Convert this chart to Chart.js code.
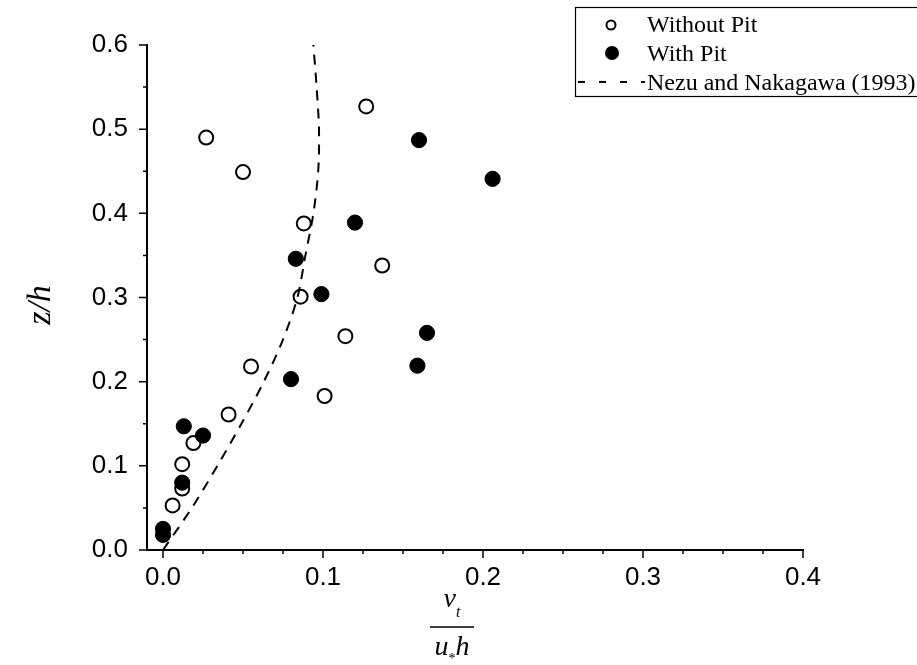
<!DOCTYPE html>
<html><head><meta charset="utf-8">
<script src="https://cdn.jsdelivr.net/npm/chart.js@4"></script>
<style>html,body{margin:0;padding:0;background:#fff;overflow:hidden;} #wrap{width:917px;height:665px;position:relative;}</style>
</head><body><div id="wrap"><canvas id="c" width="917" height="665"></canvas></div>
<script>
// ---- data ----
const withoutPitX = [0.027, 0.050, 0.127, 0.088, 0.137, 0.086, 0.114, 0.055, 0.101, 0.041, 0.019, 0.012, 0.012, 0.006];
const withoutPitY = [0.490, 0.449, 0.527, 0.388, 0.338, 0.301, 0.254, 0.218, 0.183, 0.161, 0.127, 0.102, 0.073, 0.053];
const withPitX = [0.160, 0.206, 0.120, 0.083, 0.099, 0.165, 0.159, 0.080, 0.025, 0.013, 0.012, 0.000, 0.000];
const withPitY = [0.487, 0.441, 0.389, 0.346, 0.304, 0.258, 0.219, 0.203, 0.136, 0.147, 0.080, 0.025, 0.018];
const nezuX = [0.000, 0.018, 0.034, 0.049, 0.063, 0.075, 0.084, 0.089, 0.094, 0.097, 0.0975, 0.096, 0.094];
const nezuY = [0.00, 0.05, 0.10, 0.15, 0.20, 0.25, 0.30, 0.35, 0.40, 0.45, 0.50, 0.55, 0.60];
const xTicks = [0.0, 0.1, 0.2, 0.3, 0.4];
const yTicks = [0.0, 0.1, 0.2, 0.3, 0.4, 0.5, 0.6];
const xMinorTicks = [0.025, 0.05, 0.075, 0.125, 0.15, 0.175, 0.225, 0.25, 0.275, 0.325, 0.35, 0.375];
const yMinorTicks = [0.05, 0.15, 0.25, 0.35, 0.45, 0.55];
const legendLabels = ['Without Pit', 'With Pit', 'Nezu and Nakagawa (1993)'];

const toPts = (xs, ys) => xs.map((x, i) => ({x: x, y: ys[i]}));
const SERIF = "'Liberation Serif', 'Times New Roman', serif";

const tickPlugin = {
  id: 'ticksAndTitles',
  afterDraw(chart) {
    const ctx = chart.ctx;
    const xs = chart.scales.x, ys = chart.scales.y;
    const ca = chart.chartArea;
    ctx.save();
    ctx.strokeStyle = '#000';
    ctx.lineWidth = 1.5;
    ctx.beginPath();
    xTicks.forEach(v => { const p = xs.getPixelForValue(v); ctx.moveTo(p, ca.bottom); ctx.lineTo(p, ca.bottom + 8); });
    xMinorTicks.forEach(v => { const p = xs.getPixelForValue(v); ctx.moveTo(p, ca.bottom); ctx.lineTo(p, ca.bottom + 4); });
    yTicks.forEach(v => { const p = ys.getPixelForValue(v); ctx.moveTo(ca.left, p); ctx.lineTo(ca.left - 8, p); });
    yMinorTicks.forEach(v => { const p = ys.getPixelForValue(v); ctx.moveTo(ca.left, p); ctx.lineTo(ca.left - 4, p); });
    ctx.stroke();

    // y title
    ctx.fillStyle = '#000';
    ctx.save();
    ctx.translate(50, 305);
    ctx.rotate(-Math.PI / 2);
    ctx.font = "italic 34px " + SERIF;
    ctx.textAlign = 'center';
    ctx.textBaseline = 'alphabetic';
    ctx.fillText('z/h', 0, 0);
    ctx.restore();

    // x title as fraction
    const cx = 452;
    ctx.textBaseline = 'alphabetic';
    ctx.textAlign = 'left';
    ctx.font = "italic 28px " + SERIF;
    const nuW = ctx.measureText('ν').width;
    ctx.font = "italic 16px " + SERIF;
    const tW = ctx.measureText('t').width;
    let sx = cx - (nuW + tW) / 2;
    ctx.font = "italic 28px " + SERIF;
    ctx.fillText('ν', sx, 607);
    ctx.font = "italic 16px " + SERIF;
    ctx.fillText('t', sx + nuW, 617);
    ctx.lineWidth = 1.5;
    ctx.beginPath(); ctx.moveTo(cx - 22, 627); ctx.lineTo(cx + 22, 627); ctx.stroke();
    ctx.font = "italic 28px " + SERIF;
    const uW = ctx.measureText('u').width, hW = ctx.measureText('h').width;
    ctx.font = "14px " + SERIF;
    const sW = ctx.measureText('*').width;
    sx = cx - (uW + sW + hW) / 2;
    ctx.font = "italic 28px " + SERIF;
    ctx.fillText('u', sx, 655);
    ctx.font = "14px " + SERIF;
    ctx.fillText('*', sx + uW, 663);
    ctx.font = "italic 28px " + SERIF;
    ctx.fillText('h', sx + uW + sW, 655);

    // legend
    ctx.lineWidth = 1.2;
    ctx.strokeStyle = '#000';
    ctx.strokeRect(575.5, 7.5, 360, 89);
    ctx.font = "24px " + SERIF;
    ctx.textAlign = 'left';
    ctx.fillText(legendLabels[0], 647, 32);
    ctx.fillText(legendLabels[1], 647, 61);
    ctx.fillText(legendLabels[2], 647, 90);
    ctx.lineWidth = 2;
    ctx.beginPath(); ctx.arc(611, 25, 4.5, 0, Math.PI * 2); ctx.fillStyle = '#fff'; ctx.fill(); ctx.stroke();
    ctx.fillStyle = '#000';
    ctx.beginPath(); ctx.arc(612, 53, 7, 0, Math.PI * 2); ctx.fill();
    ctx.setLineDash([7, 14]);
    ctx.beginPath(); ctx.moveTo(578, 82); ctx.lineTo(645, 82); ctx.stroke();
    ctx.setLineDash([]);
    ctx.restore();
  }
};

new Chart(document.getElementById('c'), {
  type: 'scatter',
  data: {
    datasets: [
      {
        label: legendLabels[2], data: toPts(nezuX, nezuY), showLine: true, order: 0,
        borderColor: '#000', borderWidth: 2, borderDash: [10, 8], pointRadius: 0, tension: 0.3, fill: false
      },
      {
        label: legendLabels[1], data: toPts(withPitX, withPitY), order: 1,
        pointRadius: 7.6, pointBackgroundColor: '#000', pointBorderColor: '#000', pointBorderWidth: 1
      },
      {
        label: legendLabels[0], data: toPts(withoutPitX, withoutPitY), order: 2,
        pointRadius: 7, pointBackgroundColor: '#fff', pointBorderColor: '#000', pointBorderWidth: 2
      }
    ]
  },
  options: {
    responsive: false,
    animation: false,
    devicePixelRatio: 1,
    layout: { padding: { left: 0, top: 45, right: 114, bottom: 0 } },
    plugins: { legend: { display: false }, tooltip: { enabled: false } },
    scales: {
      x: {
        type: 'linear', min: -0.01, max: 0.4,
        afterBuildTicks: s => { s.ticks = xTicks.map(v => ({ value: v })); },
        afterFit: s => { s.height = 115; },
        grid: { display: false, drawTicks: false },
        border: { display: true, color: '#000', width: 2 },
        ticks: { color: '#000', padding: 12, maxRotation: 0, autoSkip: false,
          font: { family: "'Liberation Sans', Arial, sans-serif", size: 26 },
          callback: v => Number(v).toFixed(1) }
      },
      y: {
        type: 'linear', min: 0, max: 0.6,
        afterBuildTicks: s => { s.ticks = yTicks.map(v => ({ value: v })); },
        afterFit: s => { s.width = 147; },
        grid: { display: false, drawTicks: false },
        border: { display: true, color: '#000', width: 2 },
        ticks: { color: '#000', padding: 19, autoSkip: false,
          font: { family: "'Liberation Sans', Arial, sans-serif", size: 26 },
          callback: v => Number(v).toFixed(1) }
      }
    }
  },
  plugins: [tickPlugin]
});
</script>
</body></html>
